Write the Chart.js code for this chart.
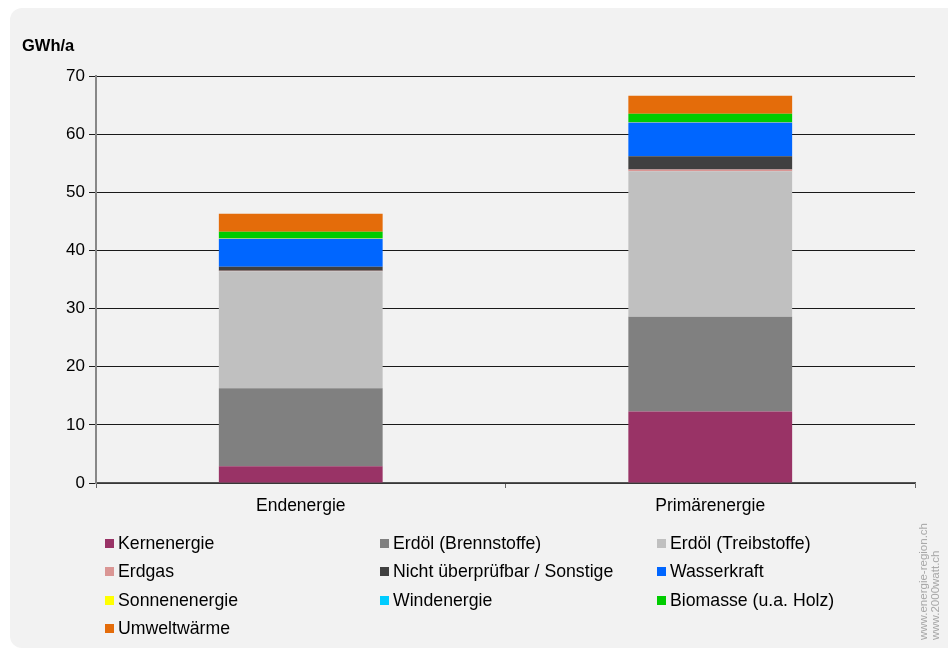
<!DOCTYPE html>
<html>
<head>
<meta charset="utf-8">
<script src="https://cdn.jsdelivr.net/npm/chart.js@4"></script>
<style>
  html, body { margin: 0; padding: 0; background: #fff; }
  body { width: 948px; height: 650px; position: relative; overflow: hidden; font-family: "Liberation Sans", Arial, sans-serif; }
  .panel { position: absolute; left: 10px; top: 8px; width: 938px; height: 640px; background: #f2f2f2; border-radius: 12px 0 0 12px; }
  #chart { position: absolute; left: 0; top: 0; }
  .unit { position: absolute; left: 22px; top: 36px; font-weight: bold; font-size: 16.5px; color: #000; }
  .legend-item { position: absolute; font-size: 17.7px; color: #000; line-height: 20px; white-space: nowrap; }
  .legend-box { position: absolute; width: 9px; height: 9px; top: 6px; }
  .credit { position: absolute; left: 917px; top: 640px; transform-origin: 0 0; transform: rotate(-90deg);
            font-size: 11.5px; line-height: 12px; color: #a6a6a6; white-space: nowrap; }
</style>
</head>
<body>
<div class="panel"></div>
<canvas id="chart" width="948" height="650"></canvas>
<div class="unit">GWh/a</div>
<div id="legend"></div>
<div class="credit">www.energie-region.ch<br>www.2000watt.ch</div>

<script>
// categories and series (GWh/a)
const categories = ['Endenergie', 'Primärenergie'];
const seriesNames = [
  'Kernenergie', 'Erdöl (Brennstoffe)', 'Erdöl (Treibstoffe)',
  'Erdgas', 'Nicht überprüfbar / Sonstige', 'Wasserkraft',
  'Sonnenenergie', 'Windenergie', 'Biomasse (u.a. Holz)',
  'Umweltwärme'
];
const kernenergie = [2.9, 12.3];
const erdoelBrenn = [13.4, 16.3];
const erdoelTreib = [20.1, 25.0];
const erdgas = [0.1, 0.3];
const nichtPruefbar = [0.7, 2.3];
const wasserkraft = [4.8, 5.8];
const sonnenenergie = [0.1, 0.1];
const windenergie = [0, 0];
const biomasse = [1.1, 1.4];
const umweltwaerme = [3.1, 3.1];
const yTicks = [0, 10, 20, 30, 40, 50, 60, 70];

const seriesValues = [kernenergie, erdoelBrenn, erdoelTreib, erdgas, nichtPruefbar,
  wasserkraft, sonnenenergie, windenergie, biomasse, umweltwaerme];
const seriesColors = ['#993366', '#808080', '#c0c0c0', '#da9694', '#404040',
  '#0066ff', '#ffff00', '#00ccff', '#00cc00', '#e46c0a'];

// html legend, three columns
const legendCols = [118, 393, 670];
const legendRows = [533, 561, 590, 618];
const legendEl = document.getElementById('legend');
seriesNames.forEach((name, i) => {
  const item = document.createElement('div');
  item.className = 'legend-item';
  item.style.left = legendCols[i % 3] + 'px';
  item.style.top = legendRows[Math.floor(i / 3)] + 'px';
  item.textContent = name;
  const box = document.createElement('span');
  box.className = 'legend-box';
  box.style.left = '-13px';
  box.style.background = seriesColors[i];
  item.appendChild(box);
  legendEl.appendChild(item);
});

const ctx = document.getElementById('chart').getContext('2d');
new Chart(ctx, {
  type: 'bar',
  data: {
    labels: categories,
    datasets: seriesNames.map((name, i) => ({
      label: name,
      data: seriesValues[i],
      backgroundColor: seriesColors[i],
      borderWidth: 0,
      barPercentage: 0.8,
      categoryPercentage: 0.5
    }))
  },
  options: {
    responsive: false,
    animation: false,
    layout: { padding: { left: 0, top: 76, right: 33, bottom: 127 } },
    plugins: {
      legend: { display: false },
      tooltip: { enabled: false }
    },
    scales: {
      x: {
        stacked: true,
        grid: { drawOnChartArea: false, tickLength: 5, color: '#666' },
        border: { color: '#555', width: 1.5 },
        ticks: { color: '#000', font: { family: 'Liberation Sans', size: 17.5 }, padding: 8 },
        afterFit: (s) => { s.height = 40; }
      },
      y: {
        stacked: true,
        min: 0,
        max: 70,
        afterBuildTicks: (s) => { s.ticks = yTicks.map(v => ({ value: v })); },
        grid: { color: '#1a1a1a', lineWidth: 1, tickLength: 7 },
        border: { color: '#888', width: 2 },
        ticks: { color: '#000', font: { family: 'Liberation Sans', size: 17 }, padding: 4 },
        afterFit: (s) => { s.width = 96; }
      }
    }
  }
});
</script>
</body>
</html>
